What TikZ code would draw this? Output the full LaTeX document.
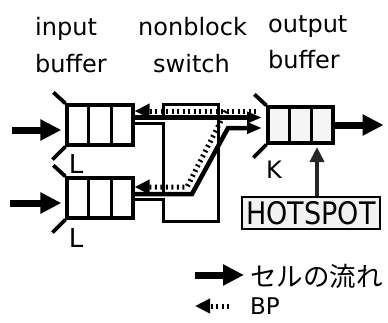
\documentclass[tikz,border=0pt]{standalone}
\usepackage{fontspec}
\setmainfont{DejaVu Sans}
\newfontfamily\jpfont{Noto Sans CJK JP}
\usepackage{graphicx}
\usetikzlibrary{arrows.meta,calc}
\begin{document}
\begin{tikzpicture}[x=1pt,y=-1pt,
  qbox/.style={draw,line width=3.2pt,minimum width=66pt,minimum height=40pt,inner sep=0pt},
  wire/.style={line width=3.2pt},
  funnel/.style={line width=3.8pt},
  thinwire/.style={line width=2.2pt},
  flow/.style={line width=7pt,-{Triangle[length=21pt,width=20pt]}},
  inflow/.style={line width=4.5pt,-{Triangle[length=15pt,width=11pt]}},
  bp/.style={line width=5pt,dash pattern=on 2pt off 3.5pt},
  bptip/.style={-{Triangle[length=15pt,width=14pt]}},
  lbl/.style={font=\fontsize{24pt}{24pt}\selectfont,inner sep=0pt},
]
\useasboundingbox (0,0) rectangle (388,322);

% top labels
\node[lbl,anchor=base west] (t1) at (35,35) {input};
\node[lbl,anchor=base west] (t2) at (35,72) {buffer};
\node[lbl,anchor=base west] (t3) at (138,35) {nonblock};
\node[lbl,anchor=base west] (t4) at (153,72) {switch};
\node[lbl,anchor=base west] (t5) at (268,32) {output};
\node[lbl,anchor=base west] (t6) at (268,68) {buffer};

% switch
\node[draw,line width=3pt,minimum width=55pt,minimum height=117pt,inner sep=0pt] (sw) at (190.5,162.5) {};

% queues
\node[qbox] (in1) at (100,125) {};
\node[qbox] (in2) at (100,198) {};
\node[qbox,fill=gray!8,minimum width=65pt,minimum height=36pt] (out) at (300.5,125) {};
\foreach \q in {in1,in2,out}{
  \draw[wire] ($(\q.north west)!1/3!(\q.north east)$) -- ($(\q.south west)!1/3!(\q.south east)$);
  \draw[wire] ($(\q.north west)!2/3!(\q.north east)$) -- ($(\q.south west)!2/3!(\q.south east)$);
  \draw[funnel] (\q.north west) -- ++(-12,-11);
  \draw[funnel] (\q.south west) -- ++(-13,13);
}

% labels L, K
\node[font=\fontsize{26pt}{26pt}\selectfont,inner sep=0pt] (L1) at (76,164) {L};
\node[font=\fontsize{26pt}{26pt}\selectfont,inner sep=0pt] (L2) at (76,238) {L};
\node[font=\fontsize{24pt}{24pt}\selectfont,inner sep=0pt] (K) at (274,170) {K};

% input arrows
\coordinate (s1) at (12,130);
\coordinate (s2) at (10,203);
\draw[flow,shorten >=4pt] (s1) -- (s1 -| in1.west);
\draw[flow,shorten >=4pt] (s2) -- (s2 -| in2.west);

% channels from input buffers to the switch
\fill[white] (160,120.3) rectangle (166,122);
\fill[white] (160,196.3) rectangle (166,198);
\draw[thinwire] (in1.east |- 0,123.5) -- (sw.west |- 0,123.5);
\draw[thinwire] (in2.east |- 0,199.5) -- (sw.west |- 0,199.5);

% cell paths through the switch
\coordinate (o1) at (262,117.5);
\coordinate (o2) at (262,128);
\coordinate (b1) at (192,194);
\coordinate (b2) at (228,128);
\draw[inflow] (in1.east |- 0,117.5) -- (o1);
\draw[inflow,line join=miter] (in2.east |- 0,194) -- (b1) -- (b2) -- (o2);

% back-pressure paths
\coordinate (p0) at (256,111);
\coordinate (p1) at (226,111);
\coordinate (p2) at (187,187);
\draw[bp,bptip] (p0) -- (in1.east |- 0,111);
\draw[bp,bptip] (p1) -- (p2) -- (in2.east |- 0,187);

% output arrow
\draw[flow] (out.east) -- ++(49,0);

% hotspot
\node[draw,line width=1.5pt,fill=gray!10,minimum width=138pt,minimum height=32pt,inner sep=0pt,
  font=\fontsize{27pt}{27pt}\selectfont] (hs) at (311,213) {\scalebox{1}[1.15]{HOTSPOT}};
\coordinate (hp) at (317,147);
\draw[line width=4pt,black!85,-{Triangle[length=15pt,width=14pt]}] (hs.north -| hp) -- (hp);

% legend
\coordinate (lg1) at (195,275);
\coordinate (lg2) at (229,306);
\draw[flow] (lg1) -- ++(49,0);
\node[anchor=west,inner sep=0pt,font=\jpfont\fontsize{26.5pt}{26.5pt}\selectfont] (leg1) at (250,276) {セルの流れ};
\draw[bp,bptip] (lg2) -- ++(-34,0);
\node[anchor=base west,inner sep=0pt,font=\fontsize{23pt}{23pt}\selectfont] (leg2) at (250,314) {BP};
\end{tikzpicture}
\end{document}
